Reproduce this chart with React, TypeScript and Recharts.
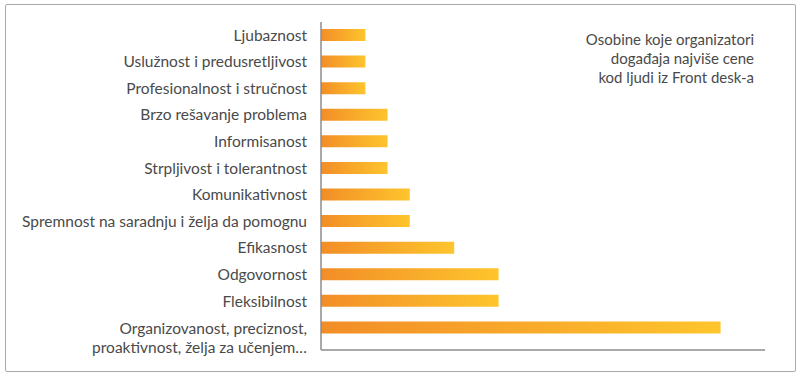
import { BarChart, Bar, XAxis, YAxis } from 'recharts'

// Categories from top to bottom
const CATEGORIES = [
  'Ljubaznost',
  'Uslužnost i predusretljivost',
  'Profesionalnost i stručnost',
  'Brzo rešavanje problema',
  'Informisanost',
  'Strpljivost i tolerantnost',
  'Komunikativnost ',
  'Spremnost na saradnju i želja da pomognu',
  'Efikasnost',
  'Odgovornost',
  'Fleksibilnost',
  'Organizovanost, preciznost,\nproaktivnost, želja za učenjem…',
]

const VALUES = [2, 2, 2, 3, 3, 3, 4, 4, 6, 8, 8, 18]

const TITLE_LINES = ['Osobine koje organizatori', 'događaja najviše cene', 'kod ljudi iz Front desk-a']

const FONT = 'Lato, "Open Sans", sans-serif'

const data = CATEGORIES.map((name, i) => ({ name, value: VALUES[i] }))

// Multi-line category label, first line sits on the bar
const CategoryTick = (props: any) => {
  const { x, y, payload } = props
  const lines = String(payload.value).split('\n')
  const lh = 19
  const startY = lines.length > 1 ? y + 1 : y
  return (
    <text x={x - 6} y={startY} textAnchor="end" fill="#4a4a4a" fontSize={15.5} fontFamily={FONT}>
      {lines.map((l, i) => (
        <tspan key={i} x={x - 6} y={startY + i * lh} dy="0.35em">
          {l}
        </tspan>
      ))}
    </text>
  )
}

export default function App() {
  return (
    <div
      style={{
        position: 'absolute',
        left: 5,
        top: 4,
        width: 789,
        height: 366,
        border: '1px solid #a9a9a9',
        borderRadius: 2,
        background: '#fff',
      }}
    >
      <div
        style={{
          position: 'absolute',
          right: 41,
          top: 25,
          textAlign: 'right',
          fontFamily: FONT,
          fontSize: 15,
          lineHeight: '19px',
          color: '#4a4a4a',
        }}
      >
        {TITLE_LINES.map((t) => (
          <div key={t}>{t}</div>
        ))}
      </div>
      <BarChart
        width={789}
        height={366}
        data={data}
        layout="vertical"
        margin={{ top: 17, right: 30, bottom: 20, left: 0 }}
      >
        <defs>
          <linearGradient id="barGrad" x1="0" y1="0" x2="1" y2="0">
            <stop offset="0%" stopColor="#F28D27" />
            <stop offset="100%" stopColor="#FEC52D" />
          </linearGradient>
        </defs>
        <XAxis
          type="number"
          domain={[0, 20]}
          tick={false}
          tickLine={false}
          height={1}
          axisLine={{ stroke: '#8c8c8c', strokeWidth: 1.5 }}
        />
        <YAxis
          type="category"
          dataKey="name"
          width={315}
          interval={0}
          tickLine={false}
          axisLine={{ stroke: '#8c8c8c', strokeWidth: 1.5 }}
          tick={<CategoryTick />}
          padding={{ top: 0, bottom: 9 }}
        />
        <Bar dataKey="value" fill="url(#barGrad)" barSize={12} isAnimationActive={false} />
      </BarChart>
    </div>
  )
}
